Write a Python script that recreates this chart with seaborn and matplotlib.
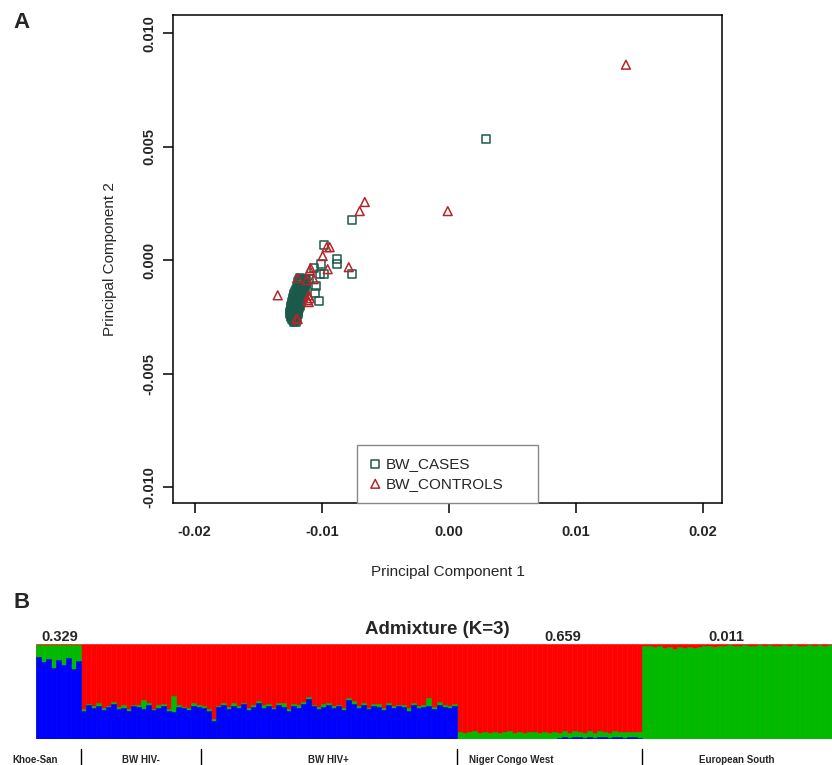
import numpy as np
import pandas as pd
import matplotlib
matplotlib.use('Agg')
import matplotlib.pyplot as plt
import seaborn as sns

sns.set_theme(style='ticks')
plt.rcParams['font.family'] = ['Liberation Sans', 'DejaVu Sans']
plt.rcParams['axes.unicode_minus'] = False

# ---- panel A : PCA ----
pc1_cases = [
    # dense cluster
    -0.01170, -0.01145, -0.01125,
    -0.01178, -0.01152, -0.01130,
    -0.01185, -0.01160, -0.01135, -0.01120,
    -0.01195, -0.01170, -0.01148, -0.01128,
    -0.01188, -0.01162, -0.01140,
    -0.01202, -0.01180, -0.01158, -0.01138,
    -0.01208, -0.01185, -0.01162, -0.01142,
    -0.01215, -0.01192, -0.01170, -0.01148,
    -0.01218, -0.01196, -0.01174, -0.01152,
    -0.01225, -0.01202, -0.01180, -0.01158,
    -0.01228, -0.01206, -0.01184, -0.01162,
    -0.01232, -0.01210, -0.01188, -0.01165,
    -0.01236, -0.01214, -0.01192, -0.01170,
    -0.01240, -0.01218, -0.01195, -0.01172,
    -0.01242, -0.01220, -0.01198, -0.01178,
    -0.01245, -0.01225, -0.01202, -0.01182,
    -0.01246, -0.01226, -0.01204, -0.01185,
    -0.01248, -0.01228, -0.01206, -0.01188,
    -0.01244, -0.01224, -0.01204,
    -0.01240, -0.01220, -0.01200,
    -0.01236, -0.01216, -0.01196,
    -0.01230, -0.01210,
    -0.01222, -0.01204,
    # scattered
    -0.00984, -0.00882, -0.00882, -0.00764, -0.00764, -0.01008,
    -0.01063, -0.01016, -0.00984, -0.01047, -0.01055, -0.01024,
    -0.01126, -0.01102, -0.01150, 0.00291,
]
pc2_cases = [
    -0.00078, -0.00082, -0.00088,
    -0.00087, -0.00087, -0.00087,
    -0.00095, -0.00100, -0.00098, -0.00105,
    -0.00112, -0.00116, -0.00113, -0.00120,
    -0.00122, -0.00122, -0.00122,
    -0.00130, -0.00133, -0.00128, -0.00135,
    -0.00140, -0.00140, -0.00140, -0.00140,
    -0.00148, -0.00152, -0.00146, -0.00150,
    -0.00158, -0.00158, -0.00158, -0.00158,
    -0.00166, -0.00170, -0.00164, -0.00168,
    -0.00176, -0.00176, -0.00176, -0.00176,
    -0.00184, -0.00188, -0.00182, -0.00186,
    -0.00194, -0.00194, -0.00194, -0.00194,
    -0.00202, -0.00206, -0.00200, -0.00204,
    -0.00212, -0.00212, -0.00212, -0.00212,
    -0.00220, -0.00224, -0.00218, -0.00222,
    -0.00230, -0.00230, -0.00230, -0.00230,
    -0.00236, -0.00240, -0.00235, -0.00238,
    -0.00245, -0.00245, -0.00245,
    -0.00252, -0.00256, -0.00250,
    -0.00260, -0.00260, -0.00260,
    -0.00266, -0.00268,
    -0.00275, -0.00275,
    0.00066, 0.00004, -0.00018, 0.00175, -0.00062, -0.00018,
    -0.00035, -0.00062, -0.00062, -0.00115, -0.00146, -0.00181,
    -0.00106, -0.00084, -0.00124, 0.00534,
]
pc1_controls = [
    0.01394, -0.00008, -0.00661, -0.00701, -0.00961, -0.00937, -0.00992,
    -0.00787, -0.00953, -0.01094, -0.01087, -0.01189, -0.01063, -0.01118,
    -0.01346, -0.01102, -0.01110, -0.01094, -0.01102, -0.01189, -0.01197,
]
pc2_controls = [
    0.00861, 0.00216, 0.00256, 0.00216, 0.00057, 0.00057, 0.00018,
    -0.00031, -0.00040, -0.00044, -0.00035, -0.00079, -0.00084, -0.00088,
    -0.00155, -0.00155, -0.00177, -0.00168, -0.00185, -0.00260, -0.00256,
]
xticks = [-0.02, -0.01, 0.0, 0.01, 0.02]
xticklabels = ['-0.02', '-0.01', '0.00', '0.01', '0.02']
yticks = [0.010, 0.005, 0.0, -0.005, -0.010]
yticklabels = ['0.010', '0.005', '0.000', '-0.005', '-0.010']

# ---- panel B : admixture proportions (percent, ~5 individuals per bar) ----
groups = ['Khoe-San', 'BW HIV-', 'BW HIV+', 'Niger Congo West', 'European South']
blue_khoe = [86, 81, 84, 75, 83, 78, 85, 74, 82]
green_khoe = [13, 18, 15, 24, 16, 21, 14, 25, 17]
blue_hivneg = [30, 36, 33, 35, 31, 34, 37, 32, 33, 30,
               35, 34, 32, 36, 31, 33, 35, 30, 28, 34,
               33, 31, 35, 34]
green_hivneg = [2, 1, 2, 3, 2, 1, 2, 2, 3, 2,
                1, 2, 9, 2, 1, 3, 2, 2, 17, 2,
                1, 2, 3, 2]
blue_hivpos = [33, 29, 19, 34, 36, 32, 35, 33, 37, 31,
               34, 38, 33, 35, 32, 36, 34, 30, 35, 33,
               37, 42, 35, 32, 34, 36, 33, 35, 31, 41,
               37, 33, 36, 32, 35, 34, 31, 36, 33, 35,
               34, 30, 36, 33, 34, 35, 32, 36, 34, 33,
               35]
green_hivpos = [2, 3, 2, 1, 2, 2, 3, 2, 1, 2,
                2, 2, 3, 2, 1, 2, 4, 2, 2, 3,
                2, 2, 1, 2, 3, 2, 2, 1, 2, 2,
                3, 2, 2, 1, 2, 3, 2, 2, 2, 1,
                2, 3, 2, 2, 2, 8, 2, 3, 2, 2,
                2]
blue_ncw = [0, 0, 0, 0, 0, 0, 0, 0, 0, 0,
            0, 0, 0, 0, 0, 0, 0, 0, 0, 0,
            1, 2, 1, 2, 2, 1, 2, 1, 2, 2,
            1, 2, 2, 1, 2, 2, 1]
green_ncw = [7, 6, 7, 8, 6, 7, 6, 7, 6, 7,
             8, 6, 7, 6, 7, 7, 6, 7, 6, 7,
             5, 6, 5, 6, 5, 5, 6, 5, 6, 5,
             5, 6, 5, 6, 5, 5, 6]
blue_eur = [0, 0, 0, 0, 0, 0, 0, 0, 0, 0,
            0, 0, 0, 0, 0, 0, 0, 0, 0, 0,
            0, 0, 0, 0, 0, 0, 0, 0, 0, 0,
            0, 0, 0, 0, 0, 0, 0, 0]
green_eur = [98, 98, 97, 98, 96, 97, 95, 97, 96, 97,
             96, 97, 98, 98, 97, 98, 98, 99, 98, 98,
             99, 98, 98, 99, 98, 99, 98, 98, 99, 98,
             99, 98, 98, 99, 98, 99, 98, 99]
top_values = ['0.329', '0.659', '0.011']

case_col = '#1b5a4a'
ctrl_col = '#b3262b'

fig = plt.figure(figsize=(8.32, 7.65), dpi=100)

# ------------------------------------------------------------ panel A
axa = fig.add_axes([173 / 832, 1 - 503 / 765, 549 / 832, 488 / 765])
cases = pd.DataFrame({'pc1': pc1_cases, 'pc2': pc2_cases})
ctrls = pd.DataFrame({'pc1': pc1_controls, 'pc2': pc2_controls})
sns.scatterplot(data=cases, x='pc1', y='pc2', marker='s', s=32,
                color=case_col, facecolor='none', edgecolor=case_col,
                linewidth=1.1, label='BW_CASES', ax=axa)
sns.scatterplot(data=ctrls, x='pc1', y='pc2', marker='^', s=40,
                color=ctrl_col, facecolor='none', edgecolor=ctrl_col,
                linewidth=1.1, label='BW_CONTROLS', ax=axa)

axa.set_xlim(-0.0217, 0.0215)
axa.set_ylim(-0.0107, 0.0108)
axa.set_xticks(xticks)
axa.set_xticklabels(xticklabels, fontsize=10.5, fontweight='bold')
axa.set_yticks(yticks)
axa.set_yticklabels(yticklabels, fontsize=10.5, fontweight='bold',
                    rotation=90, va='center')
axa.tick_params(axis='x', length=7.5, width=1.1, pad=8, color='black')
axa.tick_params(axis='y', length=7.5, width=1.1, pad=4.5, color='black')
for sp in axa.spines.values():
    sp.set_color('black')
    sp.set_linewidth(1.1)
axa.set_xlabel('Principal Component 1', fontsize=11, labelpad=19)
axa.set_ylabel('Principal Component 2', fontsize=11, labelpad=18)

leg = axa.legend(loc='lower left', bbox_to_anchor=(0.335, 0.0, 0.33, 0.115),
                 mode='expand', frameon=True, fancybox=False, framealpha=1,
                 edgecolor='#888888', fontsize=11, handlelength=0.8,
                 handletextpad=0.3, borderpad=0.8, labelspacing=0.35,
                 borderaxespad=0)
leg.get_frame().set_linewidth(1.0)

fig.text(22 / 832, 1 - 22 / 765, 'A', fontsize=16, fontweight='bold',
         ha='center', va='center')

# ------------------------------------------------------------ panel B
blue = np.array(blue_khoe + blue_hivneg + blue_hivpos + blue_ncw + blue_eur) / 100
green = np.array(green_khoe + green_hivneg + green_hivpos + green_ncw + green_eur) / 100
red = 1 - blue - green
counts = [len(blue_khoe), len(blue_hivneg), len(blue_hivpos), len(blue_ncw), len(blue_eur)]
n = len(blue)
bdf = pd.DataFrame({'ind': np.arange(n), 'top': blue + green + red,
                    'mid': blue + green, 'low': blue})

axb = fig.add_axes([36 / 832, 1 - 739 / 765, 796 / 832, 95 / 765])
for col, c in [('top', '#ff0000'), ('mid', '#00bb00'), ('low', '#0000ff')]:
    sns.barplot(data=bdf, x='ind', y=col, color=c, saturation=1, width=1,
                native_scale=True, errorbar=None, linewidth=0.4, edgecolor=c,
                ax=axb)
axb.set_xlim(-0.5, n - 0.5)
axb.set_ylim(0, 1)
axb.axis('off')

bounds = np.cumsum(counts)
for b in bounds[:-1]:
    axb.plot([b - 0.5, b - 0.5], [-0.105, -0.275], color='black', lw=1.0,
             clip_on=False)

starts = np.concatenate([[0], bounds[:-1]])
centers = starts + np.array(counts) / 2 - 0.5
label_x = [-0.7, centers[1], centers[2], 94.5, centers[4]]
for g, xg in zip(groups, label_x):
    axb.text(xg, -0.22, g, fontsize=7, fontweight='bold', ha='center',
             va='center', clip_on=False)

axb.text(79.7, 1.15, 'Admixture (K=3)', fontsize=13.5, fontweight='bold',
         ha='center', va='center', clip_on=False)
for xv, t in zip([4.3, 104.7, 137.3], top_values):
    axb.text(xv, 1.075, t, fontsize=10.5, fontweight='bold', ha='center',
             va='center', clip_on=False)

fig.text(22 / 832, 1 - 603 / 765, 'B', fontsize=16, fontweight='bold',
         ha='center', va='center')

fig.savefig('out.png', dpi=100)
